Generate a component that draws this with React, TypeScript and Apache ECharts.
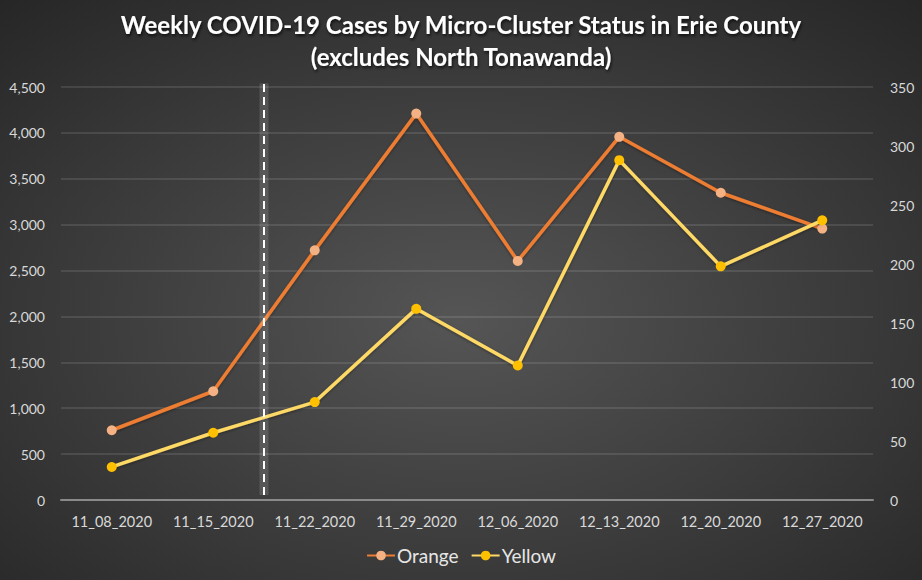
import React, { useEffect, useRef } from "react";
import * as echarts from "echarts";

const categories = ["11_08_2020", "11_15_2020", "11_22_2020", "11_29_2020", "12_06_2020", "12_13_2020", "12_20_2020", "12_27_2020"];
const orangeValues = [760, 1185, 2720, 4210, 2605, 3957, 3348, 2957];
const yellowValues = [28, 57, 83, 162, 114, 288, 198, 237];
const leftTicks = { min: 0, max: 4500, interval: 500 };
const rightTicks = { min: 0, max: 350, interval: 50 };
// vertical divider between 11_15 and 11_22 (category boundary index 2), spanning roughly the value range
const dividerLine = [
  [2, 55],
  [2, 4540],
];

const titleText = "Weekly COVID-19 Cases by Micro-Cluster Status in Erie County\n(excludes North Tonawanda)";

export default function App() {
  const ref = useRef<HTMLDivElement>(null);
  useEffect(() => {
    if (!ref.current) return;
    document.body.style.margin = "0";
    const chart = echarts.init(ref.current, undefined, { renderer: "svg" });
    const font = "Lato, 'Open Sans', sans-serif";
    chart.setOption({
      animation: false,
      backgroundColor: {
        type: "radial",
        x: 0.5,
        y: 0.55,
        r: 0.75,
        colorStops: [
          { offset: 0, color: "#555555" },
          { offset: 1, color: "#262626" },
        ],
      },
      title: {
        text: titleText,
        left: "center",
        top: 3,
        textStyle: {
          color: "#ffffff",
          fontFamily: font,
          fontWeight: "bold",
          fontSize: 24,
          lineHeight: 32,
          textShadowColor: "rgba(0,0,0,0.7)",
          textShadowBlur: 3,
          textShadowOffsetX: 1,
          textShadowOffsetY: 2,
        },
      },
      legend: {
        bottom: 10,
        left: "center",
        itemWidth: 28,
        itemHeight: 12,
        itemGap: 12,
        textStyle: { color: "#e6e6e6", fontFamily: font, fontSize: 19, padding: [0, 0, 0, -3] },
        data: ["Orange", "Yellow"],
      },
      grid: { left: 61, right: 49, top: 87, bottom: 80 },
      xAxis: [
        {
          type: "category",
          data: categories,
          boundaryGap: true,
          axisLine: { lineStyle: { color: "#8a8a8a", width: 2 } },
          axisTick: { show: false },
          axisLabel: { color: "#d9d9d9", fontFamily: font, fontSize: 14.5, margin: 14, interval: 0 },
        },
        {
          type: "value",
          min: 0,
          max: categories.length,
          show: false,
        },
      ],
      yAxis: [
        {
          type: "value",
          min: leftTicks.min,
          max: leftTicks.max,
          interval: leftTicks.interval,
          axisLine: { show: false },
          axisTick: { show: false },
          splitLine: { lineStyle: { color: "rgba(255,255,255,0.14)", width: 1.5 } },
          axisLabel: {
            color: "#d9d9d9",
            fontFamily: font,
            fontSize: 14,
            margin: 16,
            formatter: (v: number) => v.toLocaleString("en-US"),
          },
        },
        {
          type: "value",
          min: rightTicks.min,
          max: rightTicks.max,
          interval: rightTicks.interval,
          axisLine: { show: false },
          axisTick: { show: false },
          splitLine: { show: false },
          axisLabel: { color: "#d9d9d9", fontFamily: font, fontSize: 14, margin: 17 },
        },
      ],
      series: [
        {
          name: "Orange",
          type: "line",
          yAxisIndex: 0,
          data: orangeValues,
          symbol: "circle",
          symbolSize: 10,
          lineStyle: { color: "#ED7D31", width: 3.5, shadowColor: "rgba(0,0,0,0.4)", shadowBlur: 3, shadowOffsetY: 1 },
          itemStyle: { color: "#F4B183", borderWidth: 0 },
          z: 3,
        },
        {
          name: "Yellow",
          type: "line",
          yAxisIndex: 1,
          data: yellowValues,
          symbol: "circle",
          symbolSize: 10,
          lineStyle: { color: "#FFD966", width: 3.5, shadowColor: "rgba(0,0,0,0.4)", shadowBlur: 3, shadowOffsetY: 1 },
          itemStyle: { color: "#FFC000", borderWidth: 0 },
          z: 4,
        },
        {
          name: "dividerGlow",
          type: "line",
          xAxisIndex: 1,
          yAxisIndex: 0,
          data: dividerLine,
          symbol: "none",
          silent: true,
          clip: false,
          lineStyle: { color: "rgba(255,255,255,0.13)", width: 9 },
          z: 5,
        },
        {
          name: "divider",
          type: "line",
          xAxisIndex: 1,
          yAxisIndex: 0,
          data: dividerLine,
          symbol: "none",
          silent: true,
          clip: false,
          lineStyle: { color: "#ffffff", type: [8, 5], width: 2 },
          z: 6,
        },
      ],
    });
    return () => chart.dispose();
  }, []);
  return <div ref={ref} style={{ position: "absolute", left: 0, top: 0, width: 922, height: 580 }} />;
}
